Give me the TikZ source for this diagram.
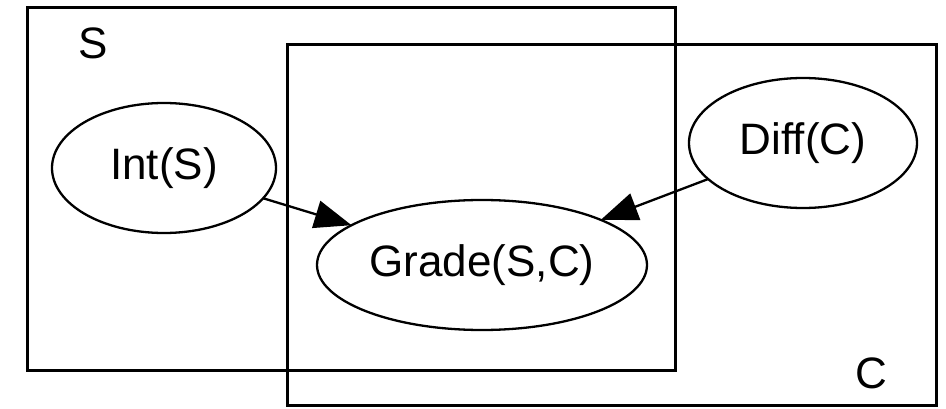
\documentclass[tikz,border=0pt]{standalone}
\usepackage{fontspec}
\setmainfont{Liberation Sans}
\usetikzlibrary{shapes.geometric,arrows.meta}
\begin{document}
\begin{tikzpicture}[x=1pt,y=-1pt,
  plate/.style={draw,line width=3pt},
  var/.style={draw,ellipse,line width=2.3pt,inner sep=0pt,outer sep=0pt,font=\fontsize{44}{50}\selectfont},
  lbl/.style={font=\fontsize{44}{50}\selectfont,inner sep=0pt},
  edge/.style={line width=2.3pt,-{Triangle[length=37pt,width=28pt]}}]
  \useasboundingbox (0,0) rectangle (946,409);
  % plates
  \draw[plate] (27,8) rectangle (675,370);
  \draw[plate] (287,45) rectangle (936,405);
  \node[lbl] (slabel) at (93,43) {S};
  \node[lbl] (clabel) at (871,373) {C};
  % variables
  \node[var,minimum width=224pt,minimum height=130pt] (int) at (164,168) {Int(S)};
  \node[var,minimum width=330pt,minimum height=130pt] (grade) at (482,265) {Grade(S,C)};
  \node[var,minimum width=228pt,minimum height=130pt] (diff) at (803,143) {Diff(C)};
  % dependencies
  \draw[edge] (int) -- (grade);
  \draw[edge] (diff) -- (grade);
\end{tikzpicture}
\end{document}
